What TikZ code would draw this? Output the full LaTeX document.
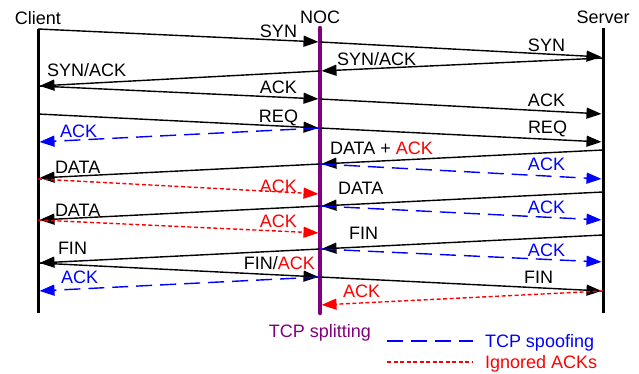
\documentclass[tikz,border=0pt]{standalone}
\usepackage{fontspec}
\setmainfont{Liberation Sans}
\usetikzlibrary{arrows.meta}
\definecolor{nocpurple}{RGB}{128,0,128}
\begin{document}
\begin{tikzpicture}[x=1pt,y=-1pt,
  font=\fontsize{18}{20}\selectfont,
  msg/.style={line width=1.4pt, shorten >=1.5pt, -{Triangle[length=15pt,width=11pt]}},
  spoof/.style={msg, blue, dash pattern=on 16pt off 8pt},
  ign/.style={msg, red, dash pattern=on 4pt off 2.5pt},
  lbl/.style={inner sep=0pt, outer sep=0pt},
  lifeline/.style={line width=3pt, black},
  noclife/.style={line width=4.5pt, nocpurple, line cap=round}]
\useasboundingbox (0,0) rectangle (639,373);
% lifelines
\coordinate (ctop) at (38,29);  \coordinate (cbot) at (38,313);
\coordinate (ntop) at (320,28); \coordinate (nbot) at (320,313);
\coordinate (stop) at (603,28); \coordinate (sbot) at (603,313);
\draw[lifeline] (ctop) -- (cbot);
\draw[noclife] (ntop) -- (nbot);
\draw[lifeline] (stop) -- (sbot);
\node[lbl, anchor=base] (tclient) at (38,24) {Client};
\node[lbl, anchor=base] (tnoc) at (320,23) {NOC};
\node[lbl, anchor=base] (tserver) at (603,23) {Server};
% message points
\foreach \y in {29,86,114,142,178,179,220,263,291} {\coordinate (c\y) at (38,\y);}
\foreach \y in {42,71,99,128,164,194,206,233,249,277,305} {\coordinate (n\y) at (320,\y);}
\foreach \y in {57,58,114,142,150,179,192,220,235,262,291} {\coordinate (s\y) at (603,\y);}
% messages
\draw[msg] (c29) -- (n42);
\draw[msg] (n42) -- (s57);
\draw[msg] (s58) -- (n71);
\draw[msg] (n71) -- (c86);
\draw[msg] (c86) -- (n99);
\draw[msg] (n99) -- (s114);
\draw[msg] (c114) -- (n128);
\draw[msg] (n128) -- (s142);
\draw[spoof] (n128) -- (c142);
\draw[msg] (s150) -- (n164);
\draw[spoof] (n164) -- (s179);
\draw[msg] (n164) -- (c178);
\draw[ign] (c179) -- (n194);
\draw[msg] (s192) -- (n206);
\draw[spoof] (n206) -- (s220);
\draw[msg] (n206) -- (c220);
\draw[ign] (c220) -- (n233);
\draw[msg] (s235) -- (n249);
\draw[spoof] (n249) -- (s262);
\draw[msg] (n249) -- (c263);
\draw[msg] (c263) -- (n277);
\draw[msg] (n277) -- (s291);
\draw[spoof] (n277) -- (c291);
\draw[ign] (s291) -- (n305);
% labels
\node[lbl, anchor=base east] (l1) at (297,37) {SYN};
\node[lbl, anchor=base east] (l2) at (565,51) {SYN};
\node[lbl, anchor=base west] (l3) at (337,65) {SYN/ACK};
\node[lbl, anchor=base west] (l4) at (47,76) {SYN/ACK};
\node[lbl, anchor=base east] (l5) at (297,93) {ACK};
\node[lbl, anchor=base east] (l6) at (565,106) {ACK};
\node[lbl, anchor=base east] (l7) at (298,122) {REQ};
\node[lbl, anchor=base east] (l8) at (567,133) {REQ};
\node[lbl, anchor=base west, blue] (l9) at (60,137) {ACK};
\node[lbl, anchor=base west] (l10) at (330,154) {DATA + \textcolor{red}{ACK}};
\node[lbl, anchor=base east, blue] (l11) at (565,170) {ACK};
\node[lbl, anchor=base west] (l12) at (55,173) {DATA};
\node[lbl, anchor=base east, red] (l13) at (297,192) {ACK};
\node[lbl, anchor=base west] (l14) at (338,194) {DATA};
\node[lbl, anchor=base east, blue] (l15) at (565,213) {ACK};
\node[lbl, anchor=base west] (l16) at (55,216) {DATA};
\node[lbl, anchor=base east, red] (l17) at (297,227) {ACK};
\node[lbl, anchor=base west] (l18) at (349,239) {FIN};
\node[lbl, anchor=base east, blue] (l19) at (565,256) {ACK};
\node[lbl, anchor=base west] (l20) at (58,254) {FIN};
\node[lbl, anchor=base east] (l21) at (315,269) {FIN/\textcolor{red}{ACK}};
\node[lbl, anchor=base east] (l22) at (553,283) {FIN};
\node[lbl, anchor=base west, blue] (l23) at (61,283) {ACK};
\node[lbl, anchor=base west, red] (l24) at (343,297) {ACK};
% legend
\node[lbl, anchor=base, nocpurple] (tsplit) at (320,337) {TCP splitting};
\coordinate (b1) at (387,341); \coordinate (b2) at (473,341);
\coordinate (r1) at (387,362); \coordinate (r2) at (473,362);
\draw[line width=1.4pt, blue, dash pattern=on 16pt off 8pt] (b1) -- (b2);
\draw[line width=1.4pt, red, dash pattern=on 4pt off 2.5pt] (r1) -- (r2);
\node[lbl, anchor=base west, blue] (tspoof) at (485,347) {TCP spoofing};
\node[lbl, anchor=base west, red] (tign) at (485,368) {Ignored ACKs};
\end{tikzpicture}
\end{document}
